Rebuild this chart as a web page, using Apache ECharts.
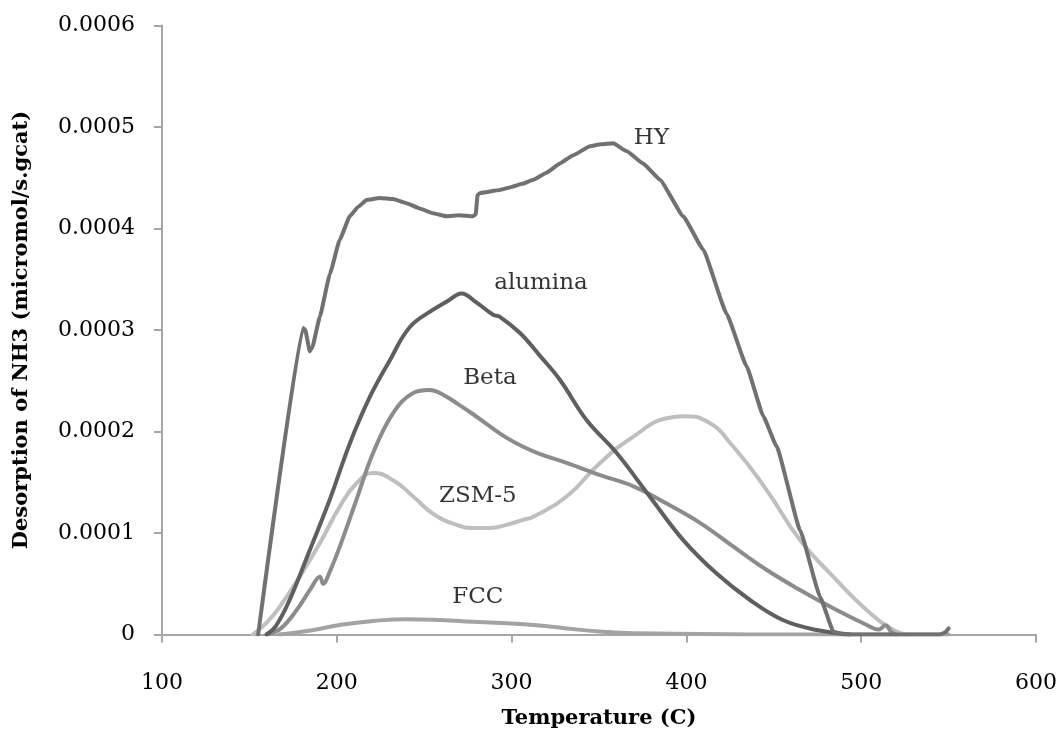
<!DOCTYPE html>
<html>
<head>
<meta charset="utf-8">
<script src="https://cdn.jsdelivr.net/npm/echarts@6/dist/echarts.min.js"></script>
<style>html,body{margin:0;padding:0;background:#fff;}#c{width:1062px;height:745px;}</style>
</head>
<body>
<div id="c"></div>
<script>
// Temperatures (C) and desorption values (micromol/s.gcat)
const hyT = [155,180.7,182,184.5,186,190.3,196,201.7,207.4,212,217,224.6,232.2,239.9,247,255,262.8,270,278,279.5,280.5,282,293.3,300,306,312.4,320,327.6,335,344.8,351,358.2,366,375.3,384.9,398.2,409.7,423,434.5,444,451.7,465,476.5,484,490,545,548,550];
const hyV = [0,0.000302,0.000300,0.000279,0.000283,0.000313,0.000355,0.000389,0.000412,0.000421,0.000428,0.000430,0.000429,0.000425,0.000420,0.000415,0.000412,0.000413,0.000412,0.000414,0.000433,0.000435,0.000438,0.000441,0.000444,0.000448,0.000455,0.000464,0.000472,0.000481,0.000483,0.000484,0.000476,0.000464,0.000448,0.000412,0.000379,0.000316,0.000264,0.000215,0.000185,0.000103,0.000037,0.000003,0,0,0.000002,0.000006];

const aluT = [159.8,165,173,184.5,196,207.4,218.9,230.3,241.8,255.1,263,271.4,280,289.5,293.3,304.8,316,327.6,343,360,379,398.2,417.3,436.4,455.5,474.6,493.6];
const aluV = [0,0.000008,0.000034,0.000083,0.000133,0.000188,0.000234,0.000270,0.000303,0.000320,0.000328,0.000336,0.000327,0.000315,0.000313,0.000297,0.000275,0.000251,0.000211,0.000179,0.000136,0.000093,0.000060,0.000034,0.000014,0.0000044,0];

const betaT = [160,168,177,185,190.3,192.2,196,201.7,211.3,220.8,232.2,243.7,253.2,260,268.5,278,287.6,297,306.6,316,331.5,350.6,369.7,388.7,407.8,426.9,446,465,484,503.2,510,514,517,520];
const betaV = [0,0.000006,0.000024,0.000045,0.000057,0.000050,0.000062,0.0000865,0.000133,0.000179,0.000218,0.000238,0.000241,0.000237,0.000228,0.000217,0.000205,0.000194,0.000185,0.000178,0.000169,0.000157,0.000146,0.000129,0.000110,0.0000865,0.0000635,0.0000438,0.0000258,0.0000094,0.000005,0.000009,0.000003,0];

const zsmT = [152,160,167.4,178.8,190.3,201.7,211.3,220.8,232.2,243.7,255.1,268.5,278,287.6,297,306.6,312.4,331.5,350.6,369.7,388.7,399.2,411.6,426.9,446,465,484,503.2,518.4,526];
const zsmV = [0,0.000012,0.0000274,0.000057,0.000090,0.000126,0.000149,0.000159,0.000152,0.000136,0.000119,0.000108,0.000105,0.000105,0.000108,0.000113,0.000116,0.000136,0.000169,0.000195,0.000213,0.000215,0.000210,0.000185,0.000142,0.0000931,0.000057,0.000024,0.0000044,0];

const fccT = [167,185,201.7,220.8,239.9,259,278,297.1,312.4,331.5,350,369.7,407.8,450,550];
const fccV = [0,0.000004,0.0000094,0.0000133,0.000015,0.0000143,0.0000126,0.000011,0.0000094,0.000006,0.000003,0.0000012,0.0000005,0,0];

// Curve name labels (anchored in data coordinates)
const labelNames = ['HY','alumina','Beta','ZSM-5','FCC'];
const labelT = [380, 316.8, 287.6, 280.7, 280.7];
const labelV = [0.000489, 0.000346, 0.000253, 0.000136, 0.000037];

const xTicks = [100,200,300,400,500,600];
const yTicks = [0,0.0001,0.0002,0.0003,0.0004,0.0005,0.0006];

const pairs = (t, v) => t.map((x, i) => [x, v[i]]);

const chart = echarts.init(document.getElementById('c'), null, {renderer: 'canvas'});
const serif = 'DejaVu Serif';
function lineSeries(name, t, v, color, smooth, mono) {
  return {
    name, type: 'line', data: pairs(t, v), showSymbol: false, symbol: 'none',
    smooth: smooth, smoothMonotone: mono ? 'x' : undefined,
    lineStyle: {color, width: 4, cap: 'round', join: 'round'},
    z: 2
  };
}
chart.setOption({
  animation: false,
  backgroundColor: '#ffffff',
  grid: {left: 162, right: 26, top: 25.5, bottom: 110.5, containLabel: false, outerBoundsMode: 'none'},
  xAxis: {
    type: 'value', min: xTicks[0], max: xTicks[xTicks.length - 1], interval: 100,
    name: 'Temperature (C)', nameLocation: 'middle', nameGap: 74,
    nameTextStyle: {fontFamily: serif, fontWeight: 'bold', fontSize: 21, color: '#000'},
    axisLine: {show: true, lineStyle: {color: '#a6a6a6', width: 2}},
    axisTick: {show: true, inside: false, length: 8, lineStyle: {color: '#a6a6a6', width: 2}},
    axisLabel: {fontFamily: serif, fontSize: 22, color: '#000', margin: 38},
    splitLine: {show: false}
  },
  yAxis: {
    type: 'value', min: yTicks[0], max: yTicks[yTicks.length - 1], interval: 0.0001,
    name: 'Desorption of NH3 (micromol/s.gcat)', nameLocation: 'middle', nameGap: 130, nameRotate: 90,
    nameTextStyle: {fontFamily: serif, fontWeight: 'bold', fontSize: 21, color: '#000'},
    axisLine: {show: true, lineStyle: {color: '#a6a6a6', width: 2}},
    axisTick: {show: true, inside: false, length: 8, lineStyle: {color: '#a6a6a6', width: 2}},
    axisLabel: {fontFamily: serif, fontSize: 22, color: '#000', margin: 27,
      formatter: v => v === 0 ? '0' : v.toFixed(4)},
    splitLine: {show: false}
  },
  series: [
    lineSeries('FCC', fccT, fccV, '#a3a3a3', 0.5, false),
    lineSeries('ZSM-5', zsmT, zsmV, '#bfbfbf', 0.5, false),
    lineSeries('Beta', betaT, betaV, '#8c8c8c', 0.4, false),
    lineSeries('alumina', aluT, aluV, '#5f5f5f', 0.4, false),
    lineSeries('HY', hyT, hyV, '#717171', 0.1, true),
    {
      type: 'scatter', symbolSize: 0, silent: true, z: 5,
      data: labelNames.map((n, i) => ({name: n, value: [labelT[i], labelV[i]]})),
      label: {show: true, position: 'inside', formatter: '{b}', fontFamily: serif, fontSize: 23, color: '#000'}
    }
  ]
});
</script>
</body>
</html>
